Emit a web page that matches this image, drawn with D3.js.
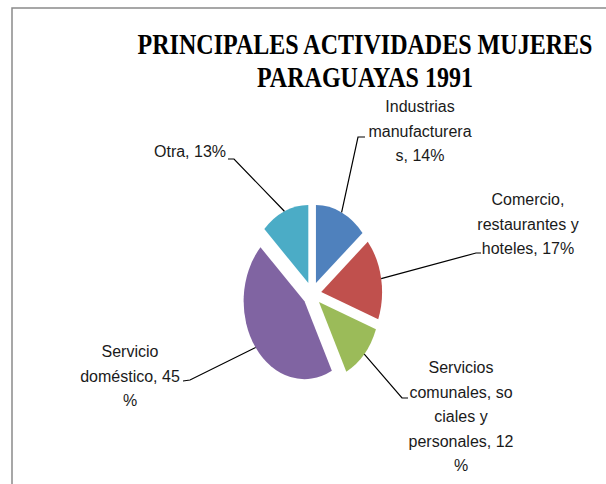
<!DOCTYPE html>
<html>
<head>
<meta charset="utf-8">
<script src="https://cdn.jsdelivr.net/npm/d3@7"></script>
<style>
  body { margin: 0; background: #fff; }
  svg { display: block; }
</style>
</head>
<body>
<div id="Chart"></div>
<script>
// data
var categories = ["Industrias manufactureras", "Comercio, restaurantes y hoteles",
                  "Servicios comunales, sociales y personales", "Servicio doméstico", "Otra"];
var values = [14, 17, 12, 45, 13];
var labelLines = [
    ["Industrias", "manufacturera", "s, 14%"],
    ["Comercio,", "restaurantes y", "hoteles, 17%"],
    ["Servicios", "comunales, so", "ciales y", "personales, 12", "%"],
    ["Servicio", "doméstico, 45", "%"],
    ["Otra, 13%"]
];
var colors = ["#4F81BD", "#C0504D", "#9BBB59", "#8064A2", "#4BACC6"];
var titleLines = ["PRINCIPALES ACTIVIDADES MUJERES", "PARAGUAYAS 1991"];

var width = 606, height = 484;
var svg = d3.select("#Chart")
    .append("svg")
    .attr("width", width)
    .attr("height", height)
    .attr('class', 'chart');

// chart frame (only top and left edges visible)
svg.append("path")
    .attr("d", "M12,484 L12,8 L606,8")
    .attr("fill", "none")
    .attr("stroke", "#8a8a8a")
    .attr("stroke-width", 1.5);

// title, squeezed horizontally like the original
var title = svg.append("g").attr("class", "title");
var t1 = title.append("text")
    .attr("x", 0).attr("y", 54)
    .style("font-family", "'Liberation Serif', 'Times New Roman', serif")
    .style("font-weight", "bold")
    .style("font-size", "30px")
    .style("text-anchor", "middle")
    .text(titleLines[0]);
var t2 = title.append("text")
    .attr("x", 0).attr("y", 87)
    .style("font-family", "'Liberation Serif', 'Times New Roman', serif")
    .style("font-weight", "bold")
    .style("font-size", "30px")
    .style("text-anchor", "middle")
    .text(titleLines[1]);
var sx = 455 / t1.node().getComputedTextLength();
title.attr("transform", "translate(365,0) scale(" + sx + ",1)");

// pie
var cx = 312, cy = 294, R = 78, explode = 12, squeeze = 0.78;
var pie = d3.pie().sort(null).value(function(d) { return d; });
var arcs = pie(values);
var arc = d3.arc().innerRadius(0).outerRadius(R);

var pieG = svg.append("g")
    .attr("transform", "translate(" + cx + "," + cy + ") scale(" + squeeze + ",1)");

pieG.selectAll(".slice")
    .data(arcs)
    .enter().append("path")
    .attr("class", "slice")
    .attr("d", arc)
    .attr("fill", function(d, i) { return colors[i]; })
    .attr("transform", function(d) {
        var a = (d.startAngle + d.endAngle) / 2;
        return "translate(" + (Math.sin(a) * explode) + "," + (-Math.cos(a) * explode) + ")";
    });

// label layout: center x, first baseline, line step, leader elbow & end
var labelPos = [
    {x: 420, y: 112, elbow: [358, 137], end: [365, 137]},
    {x: 528, y: 205, elbow: [476, 253], end: [481, 253]},
    {x: 461, y: 373, elbow: [402, 398], end: [408, 398]},
    {x: 130, y: 357, elbow: [190, 380], end: [183, 381]},
    {x: 190, y: 157, elbow: [234, 159], end: [228, 159]}
];
var lineStep = 24.5;

// leader lines start at the slice's outer edge
arcs.forEach(function(d, i) {
    var a = (d.startAngle + d.endAngle) / 2;
    var r = R + explode;
    var start = [cx + squeeze * r * Math.sin(a), cy - r * Math.cos(a)];
    var p = labelPos[i];
    svg.append("polyline")
        .attr("points", [start, p.elbow, p.end].map(function(q) { return q.join(","); }).join(" "))
        .attr("fill", "none")
        .attr("stroke", "#000")
        .attr("stroke-width", 1.2);
});

labelLines.forEach(function(lines, i) {
    var p = labelPos[i];
    var txt = svg.append("text")
        .attr("class", "legend_label")
        .style("font-family", "'Liberation Sans', Arial, sans-serif")
        .style("font-size", "16px")
        .style("fill", "#1a1a1a")
        .style("text-anchor", "middle");
    lines.forEach(function(s, j) {
        txt.append("tspan")
            .attr("x", p.x)
            .attr("y", p.y + j * lineStep)
            .text(s);
    });
});
</script>
</body>
</html>
